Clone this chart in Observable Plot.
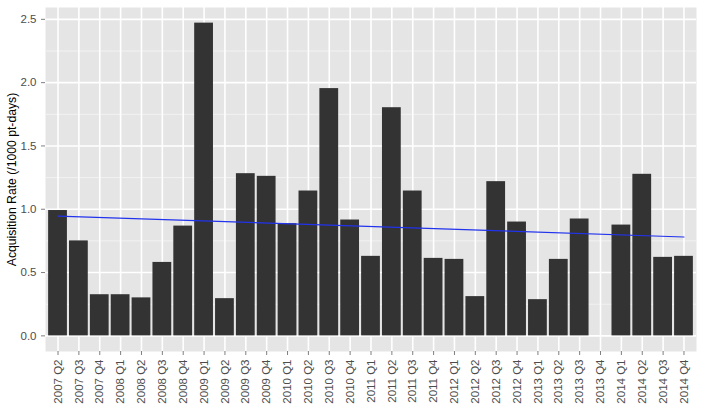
<!DOCTYPE html>
<html><head><meta charset="utf-8">
<script src="https://cdn.jsdelivr.net/npm/d3@7"></script>
<script src="https://cdn.jsdelivr.net/npm/@observablehq/plot@0.6"></script>
<style>body{margin:0;background:#fff}</style>
</head><body><div id="chart"></div>
<script>
const quarters = ["2007 Q2","2007 Q3","2007 Q4","2008 Q1","2008 Q2","2008 Q3","2008 Q4",
  "2009 Q1","2009 Q2","2009 Q3","2009 Q4","2010 Q1","2010 Q2","2010 Q3","2010 Q4",
  "2011 Q1","2011 Q2","2011 Q3","2011 Q4","2012 Q1","2012 Q2","2012 Q3","2012 Q4",
  "2013 Q1","2013 Q2","2013 Q3","2013 Q4","2014 Q1","2014 Q2","2014 Q3","2014 Q4"];
const rates = [0.99,0.75,0.325,0.325,0.30,0.58,0.867,
  2.47,0.294,1.281,1.26,0.886,1.144,1.953,0.915,
  0.628,1.802,1.144,0.612,0.604,0.31,1.218,0.899,
  0.286,0.604,0.923,null,0.875,1.276,0.62,0.628];
const yTicks = [0,0.5,1,1.5,2,2.5];
const yMinorTicks = [0.25,0.75,1.25,1.75,2.25];
const trendQuarters = ["2007 Q2","2014 Q4"];
const trendRates = [0.946,0.781];
const yLabel = "Acquisition Rate (/1000 pt-days)";

const bars = quarters.map((q,i)=>({q, v: rates[i]})).filter(d=>d.v!=null);
const trend = trendQuarters.map((q,i)=>({q, v: trendRates[i]}));

const chart = Plot.plot({
  width:704, height:412, marginLeft:45, marginRight:8, marginTop:7, marginBottom:61,
  style:{fontFamily:"'Liberation Sans', Arial, Helvetica, sans-serif", fontSize:"11.5px", background:"white"},
  x:{domain:quarters, paddingInner:0.1, paddingOuter:0.15, round:false, label:null},
  y:{domain:[-0.1235,2.5935], label:null},
  marks:[
    Plot.frame({fill:"#E5E5E5", stroke:"none"}),
    Plot.ruleY(yMinorTicks, {stroke:"#F2F2F2", strokeWidth:1}),
    Plot.ruleY(yTicks, {stroke:"white", strokeWidth:1.6}),
    Plot.ruleX(quarters, {stroke:"white", strokeWidth:1.6}),
    Plot.barY(bars, {x:"q", y:"v", fill:"#333333"}),
    Plot.line(trend, {x:"q", y:"v", stroke:"#2233EE", strokeWidth:1.2}),
    Plot.axisY(yTicks, {tickFormat:d3.format(".1f"), tickSize:4, tickPadding:5, fontSize:11.5, fill:"#4D4D4D", stroke:"#7F7F7F", label:null}),
    Plot.axisX({tickRotate:-90, tickSize:4, tickPadding:4, fontSize:11.5, fill:"#4D4D4D", stroke:"#7F7F7F", label:null}),
    Plot.text([yLabel], {frameAnchor:"left", textAnchor:"middle", dx:-33.5, rotate:-90, fontSize:12.2, fill:"black"})
  ]
});
document.getElementById("chart").appendChild(chart);
</script>
</body></html>
